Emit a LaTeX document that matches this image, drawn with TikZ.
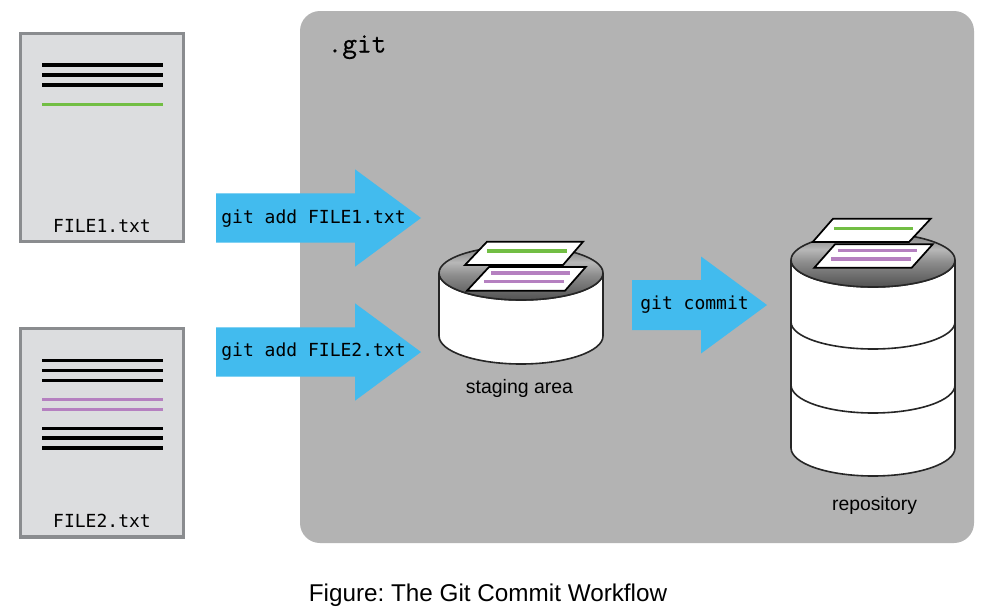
\documentclass[tikz,border=0pt]{standalone}
\usepackage{fontspec}
\setmainfont{Liberation Sans}
\newfontfamily\gitfont[FakeBold=0.6]{Latin Modern Mono}
\setmonofont{DejaVu Sans Mono}
\definecolor{gitbg}{HTML}{B3B3B3}
\definecolor{filebg}{HTML}{DCDDDF}
\definecolor{fileedge}{HTML}{8A8C8F}
\definecolor{arrowblue}{HTML}{42BBEE}
\definecolor{lgreen}{HTML}{72BE44}
\definecolor{lpurple}{HTML}{B580C0}
\pgfdeclareverticalshading{disc}{100bp}{
  color(0bp)=(black!68);
  color(25bp)=(black!68);
  color(48bp)=(black!45);
  color(60bp)=(black!28);
  color(75bp)=(black!52);
  color(100bp)=(black!52)}
\tikzset{
  x=0.75pt,y=-0.75pt,
  filebox/.style={draw=fileedge,line width=2.4pt,fill=filebg},
  txtline/.style={line width=2.4pt,draw=black},
  grline/.style={line width=2.4pt,draw=lgreen},
  puline/.style={line width=2.4pt,draw=lpurple},
  smallgr/.style={line width=2.5pt,draw=lgreen},
  smallpu/.style={line width=2.5pt,draw=lpurple},
  blockarrow/.style={fill=arrowblue,draw=none},
  monolabel/.style={font=\ttfamily\fontsize{13.5pt}{15pt}\selectfont,inner sep=0pt,anchor=base},
  sheet/.style={draw=black,fill=white,line width=1.3pt,line join=miter},
  cyl/.style={draw=black!85,fill=white,line width=1.2pt},
  disc/.style={draw=black!85,line width=1.2pt,shading=disc},
}
\newcommand{\blockarr}[6]{%
  \fill[blockarrow] (#1,#4-#5) -- (#2,#4-#5) -- (#2,#4-#6) -- (#3,#4) -- (#2,#4+#6) -- (#2,#4+#5) -- (#1,#4+#5) -- cycle;}
\begin{document}
\begin{tikzpicture}
\useasboundingbox (0,0) rectangle (987,614);
\fill[white] (0,0) rectangle (987,614);
\fill[gitbg,rounded corners=15pt] (300,11) rectangle (974,543);
\node[font=\gitfont\fontsize{21.4pt}{23pt}\selectfont,inner sep=0pt,anchor=base] (gitlabel) at (357,52.5) {.git};
% files
\draw[filebox] (20.5,33.5) rectangle (183.5,241.5);
\foreach \y in {65,75,85} \draw[txtline] (42,\y) -- (162.5,\y);
\draw[grline] (42,104.5) -- (162.5,104.5);
\node[monolabel] (f1t) at (102,232) {FILE1.txt};
\draw[filebox] (20.5,328.5) rectangle (183.5,537);
\foreach \y in {360.5,370.5,380.5,428.5,438,448} \draw[txtline] (42,\y) -- (162.5,\y);
\foreach \y in {399.5,409.5} \draw[puline] (42,\y) -- (162.5,\y);
\node[monolabel] (f2t) at (102,527.5) {FILE2.txt};
% arrows
\blockarr{216}{355}{421}{218}{24.7}{48.7}
\blockarr{216}{355}{421}{352}{24.7}{48.7}
\blockarr{632}{701}{767}{305}{25}{48.5}
\node[monolabel] (a1) at (313.5,223) {git add FILE1.txt};
\node[monolabel] (a2) at (313.5,356.7) {git add FILE2.txt};
\node[monolabel] (a3) at (694.5,309) {git commit};
% staging cylinder
\draw[cyl] (439,273) -- (439,336) arc[start angle=180,end angle=0,x radius=82,y radius=28] -- (603,273) arc[start angle=0,end angle=180,x radius=82,y radius=27];
\draw[disc] (521,273) ellipse[x radius=82,y radius=27];
\draw[sheet] (487,241.7) -- (583,241.7) -- (563,265) -- (465,265) -- cycle;
\draw[smallgr] (487,251) -- (567,251);
\draw[sheet] (489,267) -- (585.7,267) -- (565,290.7) -- (467,290.7) -- cycle;
\draw[smallpu] (491,273) -- (570,273);
\draw[smallpu] (484,281.7) -- (563.7,281.7);
\node[font=\frenchspacing\fontsize{14.6pt}{16pt}\selectfont,inner sep=0pt,anchor=base] (sa) at (519.5,393) {staging area};
% repository
\draw[cyl] (791,260) -- (791,448) arc[start angle=180,end angle=0,x radius=82,y radius=28] -- (955,260) arc[start angle=0,end angle=180,x radius=82,y radius=27];
\draw[cyl,fill=none] (791,322) arc[start angle=180,end angle=0,x radius=82,y radius=27];
\draw[cyl,fill=none] (791,385) arc[start angle=180,end angle=0,x radius=82,y radius=28];
\draw[disc] (873,260) ellipse[x radius=82,y radius=27];
\draw[sheet] (833,218.7) -- (930.7,218.7) -- (909,242) -- (812.7,242) -- cycle;
\draw[smallgr] (834,228.3) -- (913,228.3);
\draw[sheet] (835,244.3) -- (932.7,244.3) -- (911.7,267.7) -- (814.3,267.7) -- cycle;
\draw[smallpu] (837.7,250.7) -- (917,250.7);
\draw[smallpu] (831,259) -- (910.7,259);
\node[font=\fontsize{14.5pt}{16pt}\selectfont,inner sep=0pt,anchor=base] (rp) at (874.5,510) {repository};
% caption
\node[font=\frenchspacing\fontsize{18.2pt}{20pt}\selectfont,inner sep=0pt,anchor=base] (cap) at (488,601) {Figure: The Git Commit Workflow};
\end{tikzpicture}
\end{document}
